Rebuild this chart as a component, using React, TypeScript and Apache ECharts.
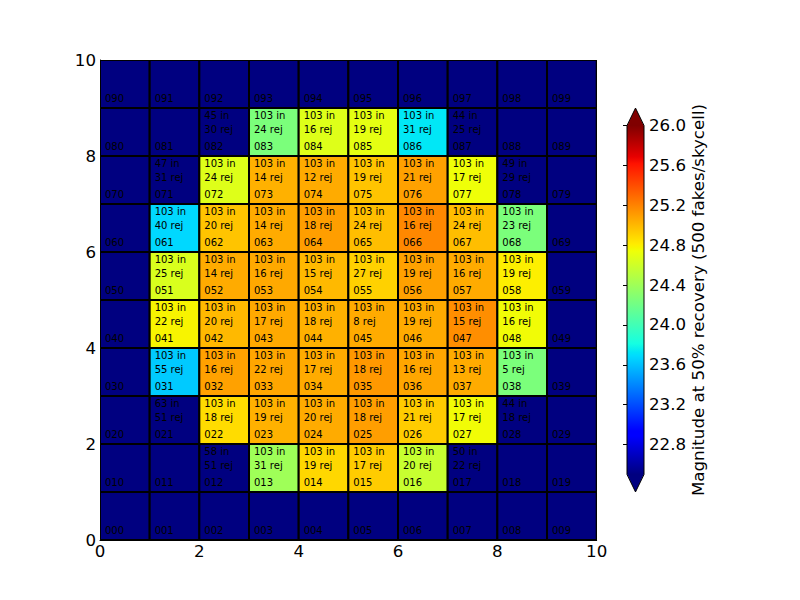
import React, { useEffect, useRef } from "react";
import * as echarts from "echarts";

// ---- data (rows y = 0..9, columns x = 0..9); null = no measured magnitude ----
const MAG_ROW0 = [null, null, null, null, null, null, null, null, null, null];
const MAG_ROW1 = [null, null, null, 24.40, 24.89, 24.93, 24.57, null, null, null];
const MAG_ROW2 = [null, null, 24.87, 25.03, 25.05, 25.10, 24.93, 24.75, null, null];
const MAG_ROW3 = [null, 23.63, 25.09, 25.07, 25.05, 25.12, 25.07, 25.05, 24.25, null];
const MAG_ROW4 = [null, 24.78, 25.00, 25.06, 25.03, 25.05, 25.05, 25.16, 24.75, null];
const MAG_ROW5 = [null, 24.65, 25.05, 25.06, 25.00, 24.91, 25.09, 25.05, 24.80, null];
const MAG_ROW6 = [null, 23.68, 24.96, 25.05, 25.10, 24.98, 25.18, 24.98, 24.25, null];
const MAG_ROW7 = [null, null, 24.67, 25.03, 25.05, 24.96, 25.09, 24.74, null, null];
const MAG_ROW8 = [null, null, null, 24.25, 24.67, 24.70, 23.73, null, null, null];
const MAG_ROW9 = [null, null, null, null, null, null, null, null, null, null];
const MAG = [MAG_ROW0, MAG_ROW1, MAG_ROW2, MAG_ROW3, MAG_ROW4, MAG_ROW5, MAG_ROW6, MAG_ROW7, MAG_ROW8, MAG_ROW9];

const IN_ROW0 = [null, null, null, null, null, null, null, null, null, null];
const IN_ROW1 = [null, null, 58, 103, 103, 103, 103, 50, null, null];
const IN_ROW2 = [null, 63, 103, 103, 103, 103, 103, 103, 44, null];
const IN_ROW3 = [null, 103, 103, 103, 103, 103, 103, 103, 103, null];
const IN_ROW4 = [null, 103, 103, 103, 103, 103, 103, 103, 103, null];
const IN_ROW5 = [null, 103, 103, 103, 103, 103, 103, 103, 103, null];
const IN_ROW6 = [null, 103, 103, 103, 103, 103, 103, 103, 103, null];
const IN_ROW7 = [null, 47, 103, 103, 103, 103, 103, 103, 49, null];
const IN_ROW8 = [null, null, 45, 103, 103, 103, 103, 44, null, null];
const IN_ROW9 = [null, null, null, null, null, null, null, null, null, null];
const N_IN = [IN_ROW0, IN_ROW1, IN_ROW2, IN_ROW3, IN_ROW4, IN_ROW5, IN_ROW6, IN_ROW7, IN_ROW8, IN_ROW9];

const REJ_ROW0 = [null, null, null, null, null, null, null, null, null, null];
const REJ_ROW1 = [null, null, 51, 31, 19, 17, 20, 22, null, null];
const REJ_ROW2 = [null, 51, 18, 19, 20, 18, 21, 17, 18, null];
const REJ_ROW3 = [null, 55, 16, 22, 17, 18, 16, 13, 5, null];
const REJ_ROW4 = [null, 22, 20, 17, 18, 8, 19, 15, 16, null];
const REJ_ROW5 = [null, 25, 14, 16, 15, 27, 19, 16, 19, null];
const REJ_ROW6 = [null, 40, 20, 14, 18, 24, 16, 24, 23, null];
const REJ_ROW7 = [null, 31, 24, 14, 12, 19, 21, 17, 29, null];
const REJ_ROW8 = [null, null, 30, 24, 16, 19, 31, 25, null, null];
const REJ_ROW9 = [null, null, null, null, null, null, null, null, null, null];
const N_REJ = [REJ_ROW0, REJ_ROW1, REJ_ROW2, REJ_ROW3, REJ_ROW4, REJ_ROW5, REJ_ROW6, REJ_ROW7, REJ_ROW8, REJ_ROW9];

const X_TICK_INTERVAL = 2;
const CBAR_TICKS = [22.8, 23.2, 23.6, 24.0, 24.4, 24.8, 25.2, 25.6, 26.0];
const VMIN = 22.5;
const VMAX = 26.0;
const CBAR_TITLE = "Magnitude at 50% recovery (500 fakes/skycell)";

// ---- jet colormap (matplotlib segment data) ----
const JR = [[0, 0], [0.35, 0], [0.66, 1], [0.89, 1], [1, 0.5]];
const JG = [[0, 0], [0.125, 0], [0.375, 1], [0.64, 1], [0.91, 0], [1, 0]];
const JB = [[0, 0.5], [0.11, 1], [0.34, 1], [0.65, 0], [1, 0]];
function seg(p: number[][], t: number) {
  if (t <= 0) return p[0][1];
  if (t >= 1) return p[p.length - 1][1];
  for (let i = 1; i < p.length; i++) {
    if (t <= p[i][0]) {
      const a = p[i - 1], b = p[i];
      return a[1] + ((t - a[0]) / (b[0] - a[0])) * (b[1] - a[1]);
    }
  }
  return p[p.length - 1][1];
}
function jet(t: number) {
  const r = Math.round(seg(JR, t) * 255);
  const g = Math.round(seg(JG, t) * 255);
  const b = Math.round(seg(JB, t) * 255);
  return `rgb(${r},${g},${b})`;
}
const UNDER = jet(0);
const OVER = jet(1);

const FONT = "DejaVu Sans";
const AXIS_FS = 16.67;

export default function App() {
  const ref = useRef<HTMLDivElement>(null);
  useEffect(() => {
    if (!ref.current) return;
    const chart = echarts.init(ref.current, null, { renderer: "svg" });

    const cells: number[][] = [];
    for (let y = 0; y < 10; y++) for (let x = 0; x < 10; x++) cells.push([x, y]);

    const stopsT = [0, 0.11, 0.125, 0.34, 0.35, 0.375, 0.64, 0.65, 0.66, 0.89, 0.91, 1];
    const colorStops = stopsT.map((t) => ({ offset: t, color: jet(t) }));

    const option: any = {
      animation: false,
      backgroundColor: "#fff",
      textStyle: { fontFamily: FONT },
      grid: [
        { left: 100, top: 60, width: 496.7, height: 480, containLabel: false },
        { left: 627, top: 125.5, width: 17, height: 349, containLabel: false },
      ],
      xAxis: [
        {
          gridIndex: 0, type: "value", min: 0, max: 10, interval: X_TICK_INTERVAL,
          axisLine: { show: true, lineStyle: { color: "#000", width: 1 } },
          axisTick: { show: true, inside: true, length: 4, lineStyle: { color: "#000" } },
          axisLabel: { color: "#000", fontSize: AXIS_FS, fontFamily: FONT, margin: 3 },
          splitLine: { show: false },
        },
        { gridIndex: 1, type: "value", min: 0, max: 1, show: false },
      ],
      yAxis: [
        {
          gridIndex: 0, type: "value", min: 0, max: 10, interval: X_TICK_INTERVAL,
          axisLine: { show: true, lineStyle: { color: "#000", width: 1 } },
          axisTick: { show: true, inside: true, length: 4, lineStyle: { color: "#000" } },
          axisLabel: { color: "#000", fontSize: AXIS_FS, fontFamily: FONT, margin: 4 },
          splitLine: { show: false },
        },
        {
          gridIndex: 1, type: "value", min: VMIN, max: VMAX, position: "right", z: 10,
          axisLine: { show: false },
          axisTick: {
            show: true, inside: true, length: 4, customValues: CBAR_TICKS,
            lineStyle: { color: "#000" },
          },
          axisLabel: {
            color: "#000", fontSize: AXIS_FS, fontFamily: FONT, margin: 5,
            customValues: CBAR_TICKS, formatter: (v: number) => v.toFixed(1),
          },
          splitLine: { show: false },
          name: CBAR_TITLE, nameLocation: "middle", nameRotate: 90, nameGap: 45,
          nameTextStyle: { color: "#000", fontSize: AXIS_FS, fontFamily: FONT },
        },
      ],
      series: [
        {
          type: "custom", xAxisIndex: 0, yAxisIndex: 0, clip: true,
          data: cells,
          renderItem: (params: any, api: any) => {
            const x = api.value(0), y = api.value(1);
            const p0 = api.coord([x, y + 1]);
            const p1 = api.coord([x + 1, y]);
            const m = MAG[y][x];
            const fill = m == null ? UNDER : jet((m - VMIN) / (VMAX - VMIN));
            const children: any[] = [
              {
                type: "rect",
                shape: { x: p0[0], y: p0[1], width: p1[0] - p0[0], height: p1[1] - p0[1] },
                style: { fill, stroke: "#000", lineWidth: 2 },
              },
            ];
            const txt = (s: string, yy: number) => {
              const p = api.coord([x + 0.1, yy]);
              return {
                type: "text",
                style: {
                  text: s, x: p[0], y: p[1], fill: "#000", fontSize: 10, fontFamily: FONT,
                  align: "left", verticalAlign: "middle",
                },
              };
            };
            children.push(txt("0" + y + x, y + 0.19));
            const ni = N_IN[y][x], nr = N_REJ[y][x];
            if (ni != null) children.push(txt(ni + " in", y + 0.835));
            if (nr != null) children.push(txt(nr + " rej", y + 0.548));
            return { type: "group", children };
          },
        },
        {
          type: "custom", xAxisIndex: 1, yAxisIndex: 1, clip: false, z: 3,
          data: [[0]],
          renderItem: (params: any, api: any) => {
            const ext = 0.05 * (VMAX - VMIN);
            const tl = api.coord([0, VMAX]);
            const br = api.coord([1, VMIN]);
            const topTip = api.coord([0.5, VMAX + ext]);
            const botTip = api.coord([0.5, VMIN - ext]);
            return {
              type: "group",
              children: [
                {
                  type: "rect",
                  shape: { x: tl[0], y: tl[1], width: br[0] - tl[0], height: br[1] - tl[1] },
                  style: {
                    fill: { type: "linear", x: 0, y: 1, x2: 0, y2: 0, colorStops },
                  },
                },
                {
                  type: "polygon",
                  shape: { points: [[tl[0], tl[1] + 0.5], [topTip[0], topTip[1]], [br[0], tl[1] + 0.5]] },
                  style: { fill: OVER },
                },
                {
                  type: "polygon",
                  shape: { points: [[tl[0], br[1] - 0.5], [botTip[0], botTip[1]], [br[0], br[1] - 0.5]] },
                  style: { fill: UNDER },
                },
                {
                  type: "polygon",
                  shape: {
                    points: [
                      [botTip[0], botTip[1]], [tl[0], br[1]], [tl[0], tl[1]],
                      [topTip[0], topTip[1]], [br[0], tl[1]], [br[0], br[1]],
                    ],
                  },
                  style: { fill: "none", stroke: "#000", lineWidth: 1 },
                },
              ],
            };
          },
        },
      ],
    };
    chart.setOption(option);
    return () => chart.dispose();
  }, []);
  return (
    <div
      ref={ref}
      style={{ position: "fixed", left: 0, top: 0, width: 800, height: 600, background: "#fff" }}
    />
  );
}
